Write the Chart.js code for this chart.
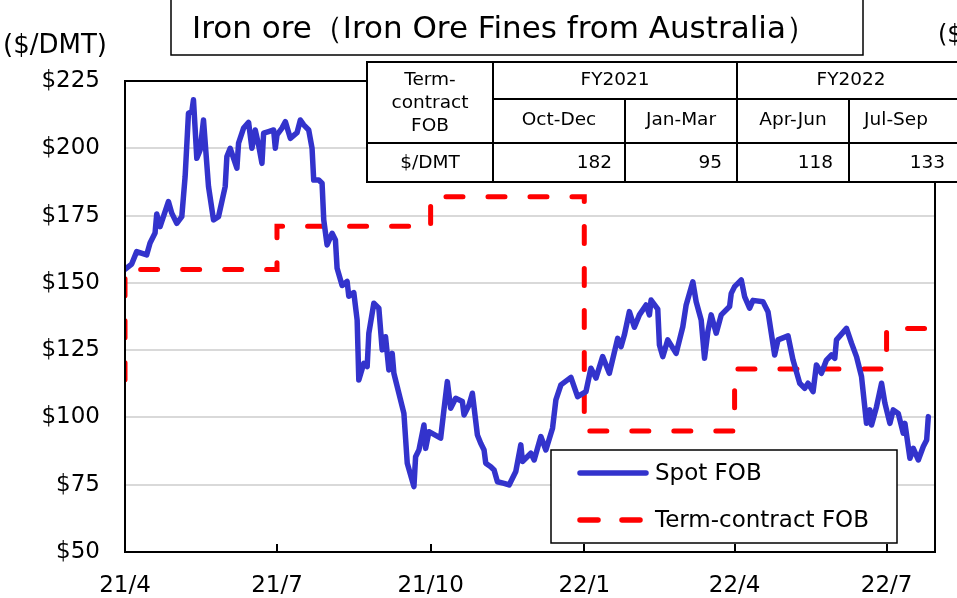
<!DOCTYPE html>
<html>
<head>
<meta charset="utf-8">
<script src="https://cdn.jsdelivr.net/npm/chart.js@4.4.0/dist/chart.umd.min.js"></script>
<style>
  html, body { margin: 0; padding: 0; background: #fff; }
</style>
</head>
<body>
<canvas id="ironChart" width="957" height="598"></canvas>
<script>
// x = days since 2021/4/1
const tickDays = [0, 91, 183, 275, 365, 456];
const tickLabels = ['21/4', '21/7', '21/10', '22/1', '22/4', '22/7'];

// Spot FOB ($/DMT)
const spotDays = [
  0, 4, 7, 13, 15, 18, 19, 21, 26, 28,
  31, 34, 36, 38, 40, 41, 43, 45, 47, 50,
  53, 56, 60, 61, 63, 67, 68, 71, 74, 76,
  78, 80, 82, 83, 86, 89, 90, 91, 94, 96,
  99, 103, 105, 107, 110, 112, 113, 116, 118, 119,
  121, 124, 126, 127, 130, 133, 134, 137, 139, 140,
  143, 145, 146, 149, 152, 154, 156, 158, 160, 161,
  167, 169, 173, 174, 176, 179, 180, 182, 189, 191,
  193, 195, 198, 202, 203, 206, 208, 211, 213, 215,
  216, 219, 221, 223, 227, 230, 234, 237, 238, 243,
  245, 249, 252, 256, 258, 261, 267, 271, 276, 279,
  282, 286, 290, 295, 297, 299, 302, 305, 308, 312,
  314, 315, 319, 320, 322, 325, 330, 334, 336, 340,
  342, 345, 347, 349, 351, 354, 357, 362, 363, 365,
  369, 371, 374, 376, 382, 385, 389, 391, 397, 400,
  404, 407, 409, 412, 414, 417, 420, 423, 425, 426,
  432, 435, 438, 441, 444, 446, 447, 450, 453, 455,
  458, 460, 463, 466, 467, 470, 472, 475, 478, 480,
  481
];
const spotValues = [
  155, 157, 161.6, 160.4, 164.8, 168.5, 175.6, 170.9, 180.2, 175.9,
  172.1, 174.6, 189.5, 213, 213.6, 218, 196.3, 199.4, 210.5, 185.8,
  173.4, 174.6, 185.8, 196.9, 200, 192.6, 201.9, 207.5, 209.6, 200,
  206.8, 201.2, 194.4, 205.6, 206.2, 206.8, 200, 205, 207.5, 209.9,
  203.7, 205.8, 210.5, 208.7, 206.8, 200, 188.2, 188.2, 187, 173.4,
  164.1, 168.4, 165.9, 155.4, 149, 150.5, 145, 146.4, 136.2, 113.9,
  120.1, 118.9, 131.3, 142.4, 140.6, 125.1, 130, 117.6, 123.8, 116.4,
  101.5, 83, 74.3, 85.4, 87.9, 97.2, 88.5, 94.7, 92.3, 103,
  113.3, 103.4, 107.1, 105.9, 100.9, 104.6, 109, 93.5, 90.4, 87.9,
  83, 81.7, 80.5, 76.1, 75.5, 74.9, 79.9, 89.8, 83.6, 86.7,
  84.2, 92.9, 87.9, 96, 106.5, 112.1, 114.9, 107.7, 109.6, 118.3,
  114.6, 122.6, 116.4, 129.4, 126.3, 130.6, 139.3, 133.5, 138.1, 141.8,
  138.1, 143.6, 140.2, 126.9, 122.6, 128.8, 123.8, 133.7, 141.8, 150.4,
  143, 136.2, 122, 131.9, 138.1, 131.3, 138.1, 141.2, 146.1, 148.6,
  151.1, 144.9, 140.6, 143.5, 143, 139.3, 123.2, 128.8, 130.3, 121.3,
  112.7, 110.8, 112.7, 109.6, 119.5, 116.4, 121.3, 123.2, 122, 128.8,
  133.1, 127.6, 122.6, 115.2, 97.8, 102.8, 97.2, 104, 112.7, 105.3,
  97.8, 102.8, 101.5, 94.1, 97.8, 84.8, 88.5, 84.2, 89.2, 91.6,
  100.3
];

// Term-contract FOB, one price per quarter
const termStarts = [0, 91, 183, 275, 365, 456];
const termPrices = [155, 171, 182, 95, 118, 133];
const termPrevPrice = 114; // Jan-Mar 2021, only the first step shows
const termEnd = 482;

// table in the top right corner
const tableYears = ['FY2021', 'FY2022'];
const tableQuarters = ['Oct-Dec', 'Jan-Mar', 'Apr-Jun', 'Jul-Sep'];
const tableValues = termPrices.slice(2);

const FONT = "'DejaVu Sans', Verdana, sans-serif";
const BLUE = '#3333CC';
const RED = '#FF0000';

const spotPoints = spotDays.map((d, i) => ({ x: d, y: spotValues[i] }));
const termPoints = [{ x: 0, y: termPrevPrice }];
termStarts.forEach((d, i) => {
  termPoints.push({ x: d, y: termPrices[i] });
  termPoints.push({ x: i + 1 < termStarts.length ? termStarts[i + 1] : termEnd, y: termPrices[i] });
});

function line(ctx, x1, y1, x2, y2) {
  ctx.beginPath();
  ctx.moveTo(x1, y1);
  ctx.lineTo(x2, y2);
  ctx.stroke();
}

function drawTable(ctx) {
  const cols = [367, 493, 625, 737, 849, 975];
  const rows = [62, 99, 143, 182];
  ctx.fillStyle = '#fff';
  ctx.fillRect(cols[0], rows[0], cols[5] - cols[0], rows[3] - rows[0]);
  ctx.strokeStyle = '#000';
  ctx.lineWidth = 2;
  ctx.strokeRect(cols[0], rows[0], cols[5] - cols[0], rows[3] - rows[0]);
  line(ctx, cols[1], rows[0], cols[1], rows[3]);
  line(ctx, cols[3], rows[0], cols[3], rows[3]);
  line(ctx, cols[2], rows[1], cols[2], rows[3]);
  line(ctx, cols[4], rows[1], cols[4], rows[3]);
  line(ctx, cols[1], rows[1], cols[5], rows[1]);
  line(ctx, cols[0], rows[2], cols[5], rows[2]);

  ctx.fillStyle = '#000';
  ctx.font = '18.5px ' + FONT;
  ctx.textBaseline = 'middle';
  ctx.textAlign = 'center';
  ctx.fillText('Term-', 430, 80);
  ctx.fillText('contract', 430, 103);
  ctx.fillText('FOB', 430, 126);
  ctx.fillText('$/DMT', 430, 163);
  const yearX = [615, 851];
  tableYears.forEach((t, i) => ctx.fillText(t, yearX[i], 80));
  const quarterX = [559, 681, 793, 896];
  tableQuarters.forEach((t, i) => ctx.fillText(t, quarterX[i], 120));
  ctx.textAlign = 'right';
  const valueX = [612, 722, 833, 945];
  tableValues.forEach((v, i) => ctx.fillText(String(v), valueX[i], 163));
}

function drawLegend(ctx) {
  ctx.fillStyle = '#fff';
  ctx.fillRect(551, 450, 346, 93);
  ctx.strokeStyle = '#000';
  ctx.lineWidth = 1.5;
  ctx.strokeRect(551, 450, 346, 93);

  ctx.lineCap = 'round';
  ctx.lineWidth = 5.5;
  ctx.strokeStyle = BLUE;
  line(ctx, 580, 473, 646, 473);
  ctx.strokeStyle = RED;
  line(ctx, 580, 520, 598, 520);
  line(ctx, 622, 520, 640, 520);
  ctx.lineCap = 'butt';

  ctx.fillStyle = '#000';
  ctx.font = '23px ' + FONT;
  ctx.textAlign = 'left';
  ctx.textBaseline = 'middle';
  ctx.fillText('Spot FOB', 655, 474);
  ctx.fillText('Term-contract FOB', 655, 521);
}

function drawTitle(ctx) {
  ctx.fillStyle = '#fff';
  ctx.fillRect(171, -2, 692, 57);
  ctx.strokeStyle = '#000';
  ctx.lineWidth = 1.5;
  ctx.strokeRect(171, -2, 692, 57);
  const title = 'Iron ore（Iron Ore Fines from Australia）';
  ctx.font = '28px ' + FONT;
  const w = ctx.measureText(title).width;
  const size = Math.min(31, 28 * 637 / w);
  ctx.font = size.toFixed(1) + 'px ' + FONT;
  ctx.fillStyle = '#000';
  ctx.textAlign = 'left';
  ctx.textBaseline = 'middle';
  ctx.fillText(title, 192, 30);

  ctx.font = '26px ' + FONT;
  ctx.fillText('($/DMT)', 3, 46);
  ctx.font = '24px ' + FONT;
  ctx.fillText('($/DMT)', 938, 36);
}

const overlay = {
  id: 'overlay',
  afterDatasetsDraw(chart) {
    const { ctx, chartArea: a, scales: { x } } = chart;
    ctx.save();
    ctx.strokeStyle = '#000';
    ctx.lineWidth = 2;
    ctx.strokeRect(a.left, a.top, a.right - a.left, a.bottom - a.top);
    tickDays.forEach(d => {
      const px = Math.round(x.getPixelForValue(d));
      line(ctx, px, a.bottom, px, a.bottom - 8);
    });
    ctx.restore();
  },
  afterDraw(chart) {
    const ctx = chart.ctx;
    ctx.save();
    drawTable(ctx);
    drawLegend(ctx);
    drawTitle(ctx);
    ctx.restore();
  }
};

const ctx = document.getElementById('ironChart').getContext('2d');
const ironChart = new Chart(ctx, {
  type: 'line',
  data: {
    datasets: [{
      label: 'Spot FOB',
      data: spotPoints,
      borderColor: BLUE,
      borderWidth: 5.5,
      pointRadius: 0,
      tension: 0,
      borderJoinStyle: 'round',
      borderCapStyle: 'round'
    }, {
      label: 'Term-contract FOB',
      data: termPoints,
      borderColor: RED,
      borderWidth: 5,
      borderDash: [17, 25],
      borderCapStyle: 'round',
      pointRadius: 0,
      tension: 0
    }]
  },
  options: {
    responsive: false,
    animation: false,
    layout: { padding: { top: 81, right: 22, left: 0, bottom: 0 } },
    plugins: {
      legend: { display: false },
      tooltip: { enabled: false }
    },
    scales: {
      x: {
        type: 'linear',
        min: 0,
        max: 485,
        afterBuildTicks: s => { s.ticks = tickDays.map(v => ({ value: v })); },
        afterFit: s => { s.height = 46; },
        grid: { display: false, drawTicks: false },
        border: { display: false },
        ticks: {
          callback: (v, i) => tickLabels[i],
          font: { family: FONT, size: 23 },
          color: '#000',
          padding: 20,
          maxRotation: 0,
          autoSkip: false
        }
      },
      y: {
        min: 50,
        max: 225,
        afterFit: s => { s.width = 125; },
        grid: { color: '#d9d9d9', lineWidth: 2, drawTicks: false },
        border: { display: false },
        ticks: {
          stepSize: 25,
          callback: v => '$' + v,
          font: { family: FONT, size: 23 },
          color: '#000',
          padding: 25
        }
      }
    }
  },
  plugins: [overlay]
});
</script>
</body>
</html>
